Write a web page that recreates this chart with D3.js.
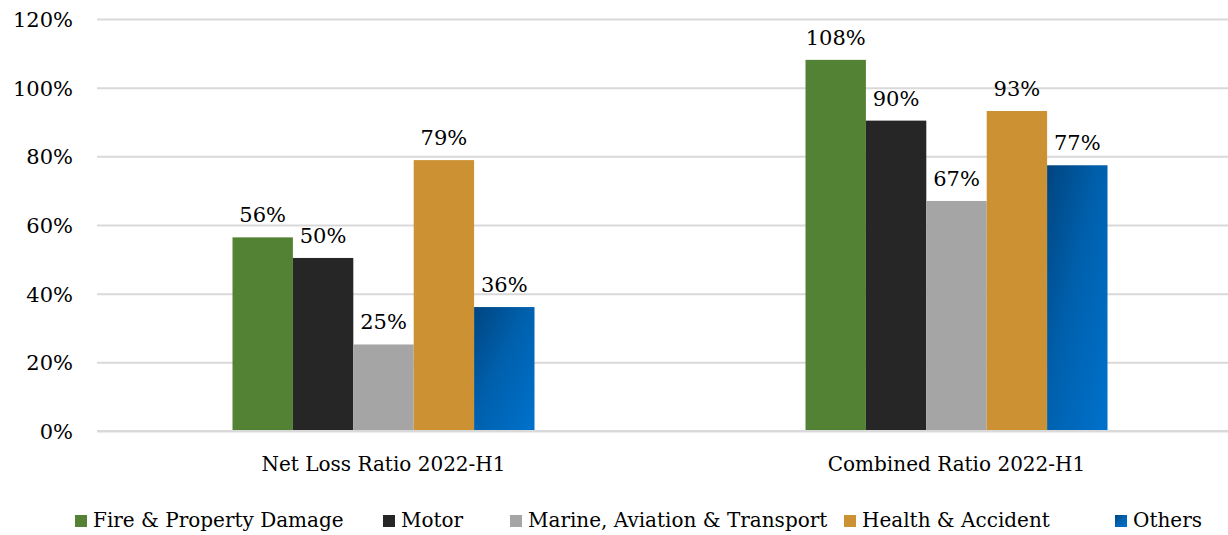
<!DOCTYPE html>
<html>
<head>
<meta charset="utf-8">
<script src="https://cdn.jsdelivr.net/npm/d3@7"></script>
<style>
  html, body { margin: 0; padding: 0; background: #fff; }
  svg { display: block; }
  text { font-family: "DejaVu Serif", "Liberation Serif", serif; fill: #000; }
</style>
</head>
<body>
<svg id="chart" width="1228" height="535"></svg>
<script>
// Ratio groups along the x axis
const groups = ["Net Loss Ratio 2022-H1", "Combined Ratio 2022-H1"];
// Business lines, one bar per line in each group
const lines = ["Fire & Property Damage", "Motor", "Marine, Aviation & Transport", "Health & Accident", "Others"];
// Ratios per business line, in the order of `groups`
const fireProperty = [0.564, 1.081];
const motor = [0.504, 0.904];
const marine = [0.252, 0.670];
const healthAccident = [0.789, 0.932];
const others = [0.361, 0.774];
// Y axis ticks
const yTicks = [0, 0.2, 0.4, 0.6, 0.8, 1.0, 1.2];

const seriesValues = [fireProperty, motor, marine, healthAccident, others];
const colors = ["#548235", "#262626", "#a5a5a5", "#cc9132", "url(#othersGrad)"];

const svg = d3.select("#chart");
const W = 1228, H = 535;
const plotLeft = 97, plotTop = 19, plotBottom = 431;

const defs = svg.append("defs");
const grad = defs.append("linearGradient")
  .attr("id", "othersGrad")
  .attr("x1", "0%").attr("y1", "0%")
  .attr("x2", "100%").attr("y2", "100%");
grad.append("stop").attr("offset", "0%").attr("stop-color", "#004580");
grad.append("stop").attr("offset", "45%").attr("stop-color", "#0060ad");
grad.append("stop").attr("offset", "100%").attr("stop-color", "#0072cc");

const y = d3.scaleLinear().domain([0, 1.2]).range([plotBottom, plotTop]);
const x0 = d3.scaleBand().domain(groups).range([plotLeft, 1243]).paddingInner(0).paddingOuter(0);
const groupWidth = 302;
const x1 = d3.scaleBand().domain(lines).range([0, groupWidth]).padding(0);

const fmt = d3.format(".0%");

// Gridlines and tick labels
const yAxis = d3.axisLeft(y).tickValues(yTicks).tickFormat(fmt).tickSize(0).tickPadding(0);
const gAxis = svg.append("g").attr("transform", `translate(${plotLeft},0)`).call(yAxis);
gAxis.select(".domain").remove();
gAxis.attr("font-family", null).attr("font-size", null);
gAxis.selectAll(".tick text")
  .attr("x", -24)
  .attr("dy", "0.35em")
  .style("font-size", "21px")
  .style("fill", "#000");
gAxis.selectAll(".tick line")
  .attr("x1", 0).attr("x2", W - plotLeft)
  .attr("stroke", "#d9d9d9").attr("stroke-width", 2);

// Bars
const gGroups = svg.append("g").selectAll("g")
  .data(groups)
  .join("g")
  .attr("transform", d => `translate(${x0(d) + (x0.bandwidth() - groupWidth) / 2},0)`);

gGroups.each(function(g, gi) {
  const sel = d3.select(this);
  lines.forEach((name, si) => {
    const v = seriesValues[si][gi];
    sel.append("rect")
      .attr("x", x1(name))
      .attr("y", y(v))
      .attr("width", x1.bandwidth())
      .attr("height", y(0) - y(v))
      .attr("fill", colors[si]);
    sel.append("text")
      .attr("x", x1(name) + x1.bandwidth() / 2)
      .attr("y", y(v) - 15)
      .attr("text-anchor", "middle")
      .style("font-size", "21px")
      .text(fmt(v));
  });
});

// Baseline redrawn over bars
svg.append("line")
  .attr("x1", plotLeft).attr("x2", W)
  .attr("y1", y(0)).attr("y2", y(0))
  .attr("stroke", "#d9d9d9").attr("stroke-width", 2);

// Category labels
svg.append("g").selectAll("text")
  .data(groups)
  .join("text")
  .attr("x", d => x0(d) + x0.bandwidth() / 2)
  .attr("y", 471)
  .attr("text-anchor", "middle")
  .style("font-size", "20px")
  .text(d => d);

// Legend
const legendX = [75, 383, 510, 844, 1115];
const leg = svg.append("g").selectAll("g")
  .data(lines)
  .join("g")
  .attr("transform", (d, i) => `translate(${legendX[i]},515)`);
leg.append("rect")
  .attr("width", 12).attr("height", 12)
  .attr("fill", (d, i) => colors[i]);
leg.append("text")
  .attr("x", 18).attr("y", 12)
  .style("font-size", "20px")
  .text(d => d);
</script>
</body>
</html>
